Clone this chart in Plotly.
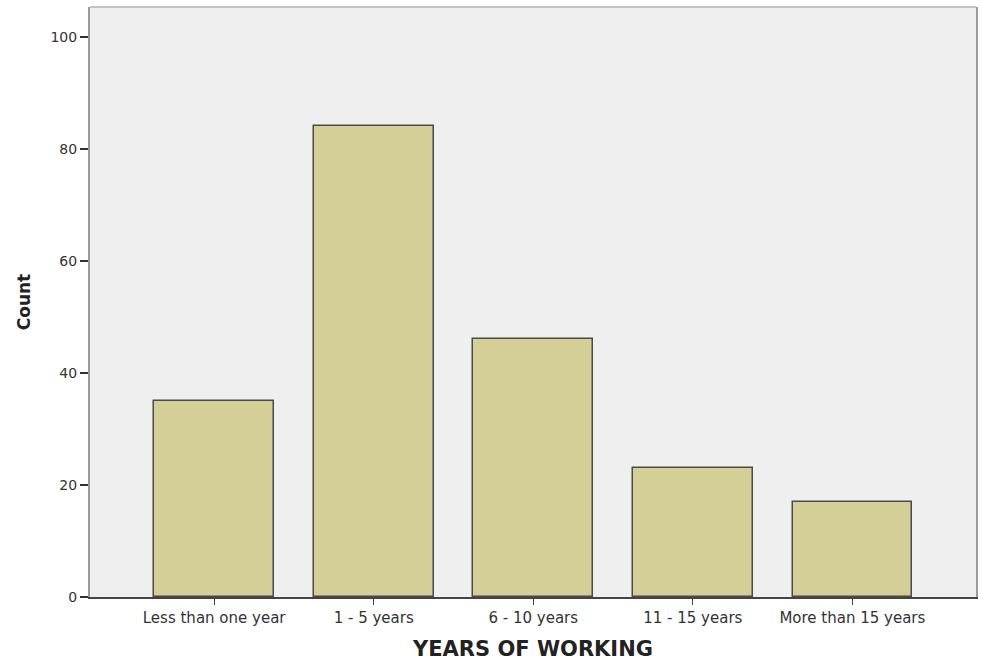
import plotly.graph_objects as go

# Respondent counts by years of working experience
categories = ["Less than one year", "1 - 5 years", "6 - 10 years", "11 - 15 years", "More than 15 years"]
counts = [35, 84, 46, 23, 17]
y_ticks = [0, 20, 40, 60, 80, 100]

fig = go.Figure(
    go.Bar(
        x=categories,
        y=counts,
        width=0.75,
        marker=dict(color="#d3cf96", line=dict(color="#4a4a4a", width=1.5)),
        hoverinfo="x+y",
    )
)

x_tick_font = dict(family="DejaVu Sans", size=15, color="#333333")
y_tick_font = dict(family="DejaVu Sans", size=14, color="#333333")

fig.update_layout(
    width=981,
    height=661,
    margin=dict(l=90, r=3, t=7, b=63),
    paper_bgcolor="white",
    plot_bgcolor="#efefef",
    showlegend=False,
    bargap=0,
    xaxis=dict(
        type="category",
        range=[-0.778, 4.775],
        showgrid=False,
        zeroline=False,
        showline=True,
        linecolor="#444444",
        linewidth=1.5,
        ticks="outside",
        ticklen=6,
        tickcolor="#444444",
        tickfont=x_tick_font,
        title=dict(
            text="YEARS OF WORKING",
            font=dict(family="DejaVu Sans", size=21, color="#222222", weight="bold"),
            standoff=17,
        ),
    ),
    yaxis=dict(
        range=[0, 105.3],
        tickvals=y_ticks,
        showgrid=False,
        zeroline=False,
        showline=True,
        mirror=True,
        linecolor="#9a9a9a",
        linewidth=2,
        ticks="outside",
        ticklen=8,
        tickwidth=2,
        tickcolor="#333333",
        tickfont=y_tick_font,
        title=dict(
            text="Count",
            font=dict(family="DejaVu Sans", size=17, color="#222222", weight="bold"),
            standoff=16,
        ),
    ),
    shapes=[
        dict(
            type="line", xref="paper", yref="paper",
            x0=0, x1=1, y0=1, y1=1,
            line=dict(color="#c4c4c4", width=2),
        )
    ],
)

fig.write_html("out.html")
